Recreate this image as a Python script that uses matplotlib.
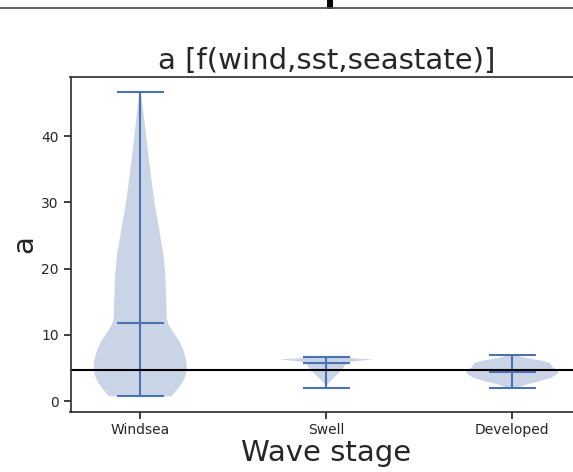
import matplotlib
matplotlib.use("Agg")
import matplotlib.pyplot as plt
from matplotlib.lines import Line2D
from matplotlib.patches import Rectangle
import numpy as np

# Wave stage categories
categories = ["Windsea", "Swell", "Developed"]

# Kernel density profiles (value grid, relative density) for each stage
windsea_coords = [0.75, 1.3, 2.05, 2.7, 3.3, 4.0, 4.8, 5.5, 6.3, 7.0, 7.8, 8.5, 9.3,
                  10.0, 10.8, 11.6, 12.3, 13.3, 14.3, 16.5, 19.35, 22.0, 24.3, 27.0,
                  30.1, 32.5, 35.1, 37.5, 40.2, 42.5, 44.7, 46.6]
windsea_density = [31, 34, 38, 41, 43.3, 45, 46, 46, 45.3, 44, 42.5, 40.3, 37.7,
                   34.5, 31, 28, 26.5, 26, 26, 25.5, 24.7, 23, 20.5, 17.5,
                   14, 11.8, 9.7, 7.7, 5.7, 4, 2.3, 0.5]

swell_coords = [1.95, 2.5, 3.05, 3.8, 4.56, 5.56, 5.97, 6.15, 6.32, 6.5, 6.66]
swell_density = [0.3, 1, 4, 9, 14, 19, 24, 35, 45, 25, 6]

developed_coords = [1.95, 2.06, 2.56, 3.05, 3.56, 4.0, 4.4, 4.8, 5.07, 5.5, 5.8,
                    6.1, 6.3, 6.6, 6.96]
developed_density = [3, 5, 15, 28, 39, 44, 46.5, 44, 41, 39, 38, 30, 23, 12, 2]

# Summary statistics
mins = [0.75, 1.95, 1.95]
maxs = [46.6, 6.66, 6.96]
medians = [11.8, 5.7, 4.47]

# Reference level
ref_level = 4.66

blue = "#4c72b0"
plt.rcParams.update({
    "font.family": "DejaVu Sans",
    "text.color": ".15",
    "axes.labelcolor": ".15",
    "xtick.color": ".15",
    "ytick.color": ".15",
    "axes.edgecolor": ".2",
    "axes.linewidth": 1.25,
    "xtick.major.width": 1.25,
    "ytick.major.width": 1.25,
    "xtick.major.size": 5,
    "ytick.major.size": 5,
})

fig = plt.figure(figsize=(5.73, 4.72), dpi=100)
W, H = 573, 472
ax = fig.add_axes([70.5 / W, (H - 411.5) / H, (582 - 70.5) / W, (411.5 - 77) / H])

coords_list = [windsea_coords, swell_coords, developed_coords]
dens_list = [windsea_density, swell_density, developed_density]
vpstats = []
for c, d, lo, hi, med in zip(coords_list, dens_list, mins, maxs, medians):
    vpstats.append(dict(coords=np.array(c, float), vals=np.array(d, float),
                        mean=med, median=med, min=lo, max=hi))

positions = np.arange(1, len(categories) + 1)
parts = ax.violin(vpstats, positions=positions, widths=0.5,
                  showmeans=False, showextrema=True, showmedians=True)
for body in parts["bodies"]:
    body.set_facecolor(blue)
    body.set_edgecolor("none")
    body.set_alpha(0.3)
for key in ("cbars", "cmins", "cmaxes", "cmedians"):
    parts[key].set_color(blue)
    parts[key].set_linewidth(1.5)

ax.axhline(ref_level, color="black", linewidth=1.5)

ax.set_xticks(positions)
ax.set_xticklabels(categories, fontsize=10)
ax.set_yticks([0, 10, 20, 30, 40])
ax.tick_params(axis="y", labelsize=10)
ax.set_xlim(0.625, 3.375)
ax.set_ylim(-1.54, 48.9)

ax.set_title("a [f(wind,sst,seastate)]", fontsize=21, pad=6)
ax.set_xlabel("Wave stage", fontsize=21, labelpad=1)
ax.set_ylabel("a", fontsize=21, labelpad=2)

# Edge of the panel above
fig.add_artist(Line2D([0, 1], [1 - 8 / H, 1 - 8 / H], transform=fig.transFigure,
                      color=".3", linewidth=1.25))
fig.add_artist(Rectangle((327 / W, 1 - 9 / H), 6 / W, 9 / H, transform=fig.transFigure,
                         color="black", linewidth=0))

fig.savefig("out.png", dpi=100)
